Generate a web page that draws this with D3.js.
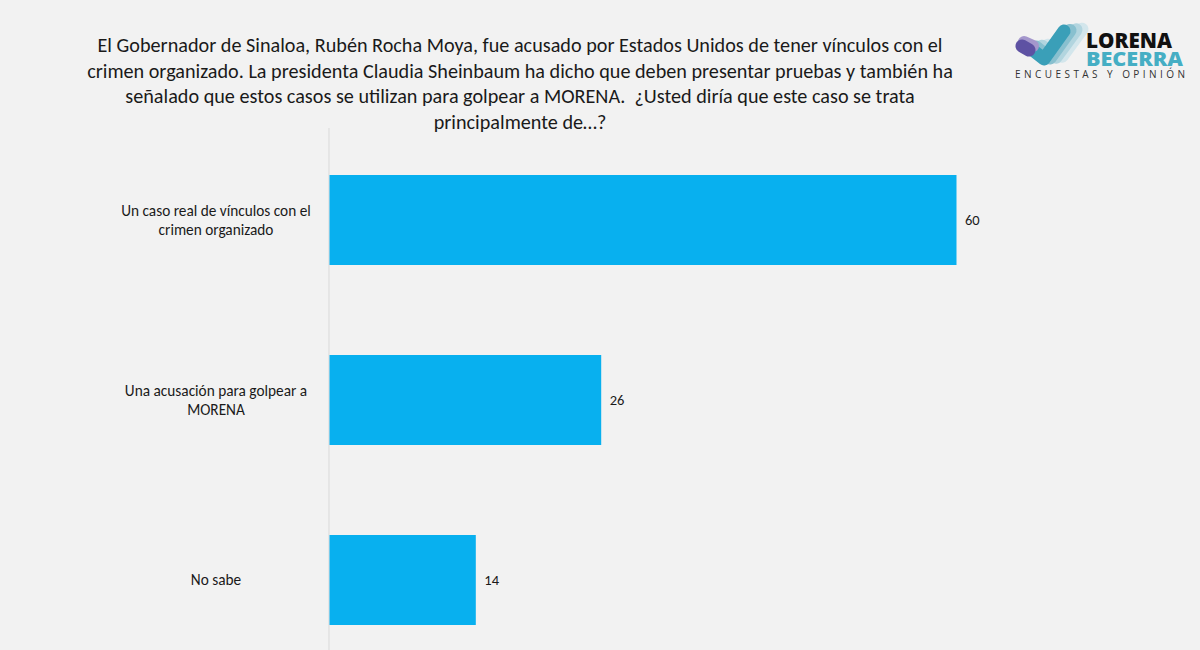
<!DOCTYPE html>
<html>
<head>
<meta charset="utf-8">
<script src="https://cdn.jsdelivr.net/npm/d3@7"></script>
<style>
  html, body { margin: 0; padding: 0; background: #f2f2f2; }
  svg { display: block; }
</style>
</head>
<body>
<svg id="chart" width="1200" height="650"></svg>
<script>
const categories = [
  ["Un caso real de vínculos con el", "crimen organizado"],
  ["Una acusación para golpear a", "MORENA"],
  ["No sabe"]
];
const values = [60, 26, 14];
const titleLines = [
  "El Gobernador de Sinaloa, Rubén Rocha Moya, fue acusado por Estados Unidos de tener vínculos con el",
  "crimen organizado. La presidenta Claudia Sheinbaum ha dicho que deben presentar pruebas y también ha",
  "señalado que estos casos se utilizan para golpear a MORENA.  ¿Usted diría que este caso se trata",
  "principalmente de…?"
];

const svg = d3.select("#chart");
const W = 1200, H = 650;
svg.append("rect").attr("width", W).attr("height", H).attr("fill", "#f2f2f2");

const font = "Carlito, Lato, 'Open Sans', sans-serif";

// Title
svg.append("g").selectAll("text").data(titleLines).join("text")
  .attr("x", 520).attr("y", (d, i) => 52 + i * 25.6)
  .attr("text-anchor", "middle")
  .attr("font-family", font).attr("font-size", 20.2).attr("fill", "#1a1a1a")
  .style("white-space", "pre")
  .text(d => d);

// Scales
const x = d3.scaleLinear().domain([0, 60]).range([329, 956]);
const y = d3.scaleBand().domain(d3.range(values.length)).range([130, 670])
  .paddingInner(0.5).paddingOuter(0.25);

// Axis line
svg.append("line").attr("x1", 329).attr("x2", 329).attr("y1", 128).attr("y2", 650)
  .attr("stroke", "#d9d9d9").attr("stroke-width", 1);

// Bars
svg.append("g").selectAll("rect").data(values).join("rect")
  .attr("x", x(0) + 0.5).attr("y", (d, i) => y(i))
  .attr("width", d => x(d) - x(0)).attr("height", y.bandwidth())
  .attr("fill", "#08b0ef");

// Value labels
svg.append("g").selectAll("text").data(values).join("text")
  .attr("x", d => x(d) + 9).attr("y", (d, i) => y(i) + y.bandwidth() / 2 + 5)
  .attr("font-family", font).attr("font-size", 14.5).attr("fill", "#1a1a1a")
  .text(d => d);

// Category labels
const cat = svg.append("g").selectAll("text").data(categories).join("text")
  .attr("text-anchor", "middle")
  .attr("font-family", font).attr("font-size", 15.3).attr("fill", "#1a1a1a");
cat.each(function(lines, i) {
  const cy = y(i) + y.bandwidth() / 2;
  const lh = 19;
  const start = cy - (lines.length - 1) * lh / 2 + 5;
  d3.select(this).selectAll("tspan").data(lines).join("tspan")
    .attr("x", 216).attr("y", (d, j) => start + j * lh).text(d => d);
});

// Logo
const logo = svg.append("g");
const strokes = [
  {dx: 18, c: "#d3e6ec"},
  {dx: 12, c: "#b2d5df"},
  {dx: 6, c: "#88c0cf"},
  {dx: 0, c: "#3a9fb8"}
];
strokes.forEach(s => {
  logo.append("path")
    .attr("d", `M${1030 + s.dx},${48 - s.dx * 0.15} L${1044 + s.dx},${59 - s.dx * 0.15} L${1064 + s.dx},${31 - s.dx * 0.1}`)
    .attr("fill", "none").attr("stroke", s.c).attr("stroke-width", 13)
    .attr("stroke-linecap", "round").attr("stroke-linejoin", "round");
});
logo.append("path").attr("d", "M1024,42 L1033,46")
  .attr("stroke", "#a497cc").attr("stroke-width", 12).attr("stroke-linecap", "round");
logo.append("path").attr("d", "M1022,46 L1029,50")
  .attr("stroke", "#5e52a3").attr("stroke-width", 13).attr("stroke-linecap", "round");
logo.append("text").attr("x", 1086).attr("y", 48)
  .attr("font-family", "'Open Sans', Lato, sans-serif").attr("font-weight", 800)
  .attr("font-size", 21.5).attr("fill", "#111").attr("textLength", 86)
  .attr("lengthAdjust", "spacingAndGlyphs")
  .text("LORENA");
logo.append("text").attr("x", 1086).attr("y", 66)
  .attr("font-family", "'Open Sans', Lato, sans-serif").attr("font-weight", 800)
  .attr("font-size", 20).attr("fill", "#45aec4").attr("textLength", 97)
  .attr("lengthAdjust", "spacingAndGlyphs")
  .text("BECERRA");
logo.append("text").attr("x", 1015).attr("y", 78)
  .attr("font-family", "'Open Sans', sans-serif").attr("font-size", 10)
  .attr("fill", "#333").attr("textLength", 170)
  .text("ENCUESTAS Y OPINIÓN");
</script>
</body>
</html>
